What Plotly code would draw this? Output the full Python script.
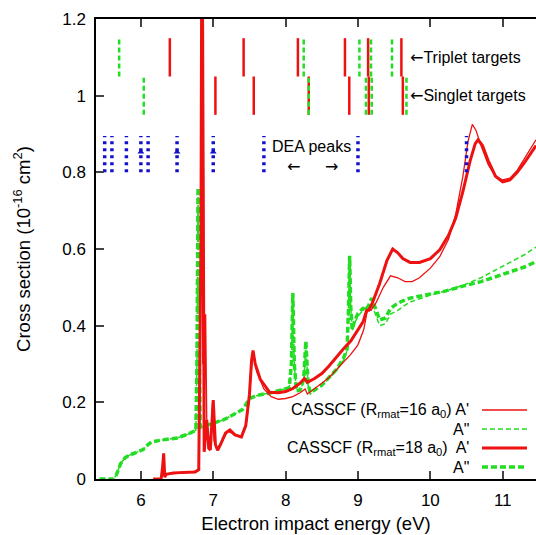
import plotly.graph_objects as go

# ---------------- data ----------------
# CASSCF R_rmat = 18 a0, A' (thick red)
e_a1_18 = [6.17, 6.28, 6.30, 6.315, 6.33, 6.35, 6.45, 6.6, 6.75, 6.8, 6.83, 6.845, 6.86, 6.875, 6.91, 6.94,
           6.96, 7.0, 7.03, 7.06, 7.1, 7.17, 7.23, 7.3, 7.39, 7.45, 7.5, 7.53, 7.55, 7.58, 7.65, 7.78,
           7.9, 8.0, 8.1, 8.2, 8.26, 8.3, 8.4, 8.5, 8.6, 8.7, 8.8, 8.9, 9.0, 9.07, 9.12, 9.15, 9.2,
           9.3, 9.4, 9.48, 9.55, 9.62, 9.72, 9.85, 10.0, 10.13, 10.25, 10.35, 10.45, 10.55, 10.62,
           10.66, 10.72, 10.8, 10.9, 11.0, 11.1, 11.2, 11.3, 11.46]
v_a1_18 = [0, 0, 0.03, 0.067, 0.005, 0.012, 0.016, 0.017, 0.018, 0.025, 0.6, 1.6, 0.5, 0.071, 0.154, 0.08,
           0.076, 0.206, 0.09, 0.075, 0.09, 0.12, 0.128, 0.115, 0.11, 0.14, 0.22, 0.31, 0.335, 0.30, 0.26, 0.226,
           0.225, 0.228, 0.236, 0.25, 0.262, 0.252, 0.262, 0.275, 0.295, 0.318, 0.34, 0.36, 0.39, 0.41, 0.44, 0.44, 0.46,
           0.51, 0.57, 0.60, 0.59, 0.575, 0.565, 0.565, 0.575, 0.598, 0.635, 0.68, 0.75, 0.83, 0.875,
           0.885, 0.87, 0.83, 0.79, 0.775, 0.78, 0.80, 0.825, 0.87]

# CASSCF R_rmat = 16 a0, A' (thin red)
e_a1_16 = [6.17, 6.28, 6.30, 6.315, 6.33, 6.35, 6.6, 6.8, 6.83, 6.84, 6.855, 6.865, 6.875, 6.895, 6.91, 6.93,
           6.96, 6.99, 7.01, 7.05, 7.1, 7.2, 7.25, 7.38, 7.45, 7.5, 7.54, 7.56, 7.6, 7.7, 7.8, 7.9,
           8.0, 8.1, 8.2, 8.27, 8.3, 8.4, 8.5, 8.6, 8.7, 8.8, 8.9, 9.0, 9.08, 9.13, 9.18, 9.25, 9.35,
           9.45, 9.55, 9.65, 9.75, 9.85, 10.0, 10.13, 10.25, 10.35, 10.45, 10.52, 10.58, 10.63, 10.7,
           10.8, 10.9, 11.0, 11.1, 11.2, 11.3, 11.46]
v_a1_16 = [0, 0, 0.03, 0.065, 0.005, 0.012, 0.016, 0.022, 0.7, 1.6, 0.3, 0.81, 0.1, 0.43, 0.16, 0.08,
           0.08, 0.2, 0.1, 0.078, 0.09, 0.125, 0.12, 0.108, 0.135, 0.21, 0.32, 0.325, 0.28, 0.235, 0.215, 0.208,
           0.21, 0.215, 0.225, 0.235, 0.222, 0.235, 0.25, 0.265, 0.285, 0.305, 0.325, 0.35, 0.39, 0.44, 0.44, 0.46, 0.5,
           0.53, 0.525, 0.515, 0.515, 0.525, 0.55, 0.58, 0.625, 0.69, 0.79, 0.88, 0.925, 0.91, 0.87,
           0.82, 0.79, 0.78, 0.785, 0.805, 0.835, 0.885]

# CASSCF R_rmat = 18 a0, A'' (thick green dashed)
e_a2_18 = [5.43, 5.62, 5.66, 5.72, 5.78, 5.85, 5.95, 6.03, 6.1, 6.15, 6.3, 6.5, 6.65, 6.76, 6.775, 6.79,
           6.805, 6.82, 6.9, 7.0, 7.14, 7.3, 7.41, 7.47, 7.52, 7.65, 7.8, 7.95, 8.05, 8.08, 8.10, 8.12,
           8.15, 8.2, 8.25, 8.28, 8.31, 8.34, 8.4, 8.5, 8.6, 8.7, 8.8, 8.85, 8.87, 8.885, 8.9, 8.92,
           8.95, 9.0, 9.07, 9.12, 9.19, 9.25, 9.3, 9.38, 9.45, 9.53, 9.62, 9.72, 9.85, 10.0, 10.2,
           10.45, 10.7, 10.91, 11.1, 11.3, 11.46]
v_a2_18 = [0, 0, 0.01, 0.04, 0.055, 0.063, 0.07, 0.077, 0.09, 0.097, 0.102, 0.107, 0.117, 0.127, 0.3, 0.76,
           0.4, 0.135, 0.14, 0.146, 0.154, 0.17, 0.182, 0.2, 0.212, 0.22, 0.225, 0.233, 0.238, 0.3, 0.485, 0.3,
           0.23, 0.232, 0.26, 0.36, 0.25, 0.225, 0.232, 0.245, 0.265, 0.285, 0.315, 0.34, 0.45, 0.582, 0.45, 0.39,
           0.41, 0.432, 0.445, 0.44, 0.472, 0.44, 0.415, 0.42, 0.445, 0.456, 0.465, 0.472, 0.477, 0.482, 0.49,
           0.503, 0.515, 0.528, 0.54, 0.553, 0.567]

# CASSCF R_rmat = 16 a0, A'' (thin green dashed)
e_a2_16 = [5.43, 5.62, 5.66, 5.72, 5.78, 5.85, 5.95, 6.03, 6.1, 6.15, 6.3, 6.5, 6.65, 6.76, 6.775, 6.79,
           6.805, 6.82, 6.9, 7.0, 7.14, 7.3, 7.41, 7.47, 7.52, 7.65, 7.8, 7.95, 8.05, 8.08, 8.10, 8.12,
           8.15, 8.2, 8.25, 8.28, 8.31, 8.34, 8.4, 8.5, 8.6, 8.7, 8.8, 8.85, 8.87, 8.885, 8.9, 8.92,
           8.95, 9.0, 9.07, 9.15, 9.2, 9.3, 9.38, 9.45, 9.55, 9.7, 9.85, 10.0, 10.2,
           10.45, 10.7, 10.91, 11.1, 11.3, 11.46]
v_a2_16 = [0, 0, 0.01, 0.04, 0.055, 0.063, 0.07, 0.077, 0.09, 0.097, 0.102, 0.107, 0.117, 0.127, 0.3, 0.76,
           0.4, 0.135, 0.14, 0.146, 0.154, 0.17, 0.182, 0.2, 0.212, 0.22, 0.225, 0.233, 0.238, 0.3, 0.48, 0.3,
           0.228, 0.23, 0.255, 0.35, 0.245, 0.222, 0.23, 0.243, 0.262, 0.282, 0.31, 0.335, 0.45, 0.57, 0.45, 0.385,
           0.405, 0.425, 0.44, 0.455, 0.45, 0.4, 0.405, 0.43, 0.44, 0.46, 0.47, 0.48, 0.49,
           0.505, 0.525, 0.545, 0.565, 0.585, 0.605]

# target state energies (eV)
triplet_red = [6.40, 7.42, 8.17, 8.82, 9.14, 9.60]
triplet_green = [5.70, 8.25, 9.02, 9.18, 9.47]
singlet_red = [7.03, 7.56, 8.32, 8.88, 9.15, 9.62]
singlet_green = [6.04, 8.32, 9.11, 9.19, 9.67]
triplet_row = [1.05, 1.15]
singlet_row = [0.95, 1.05]

# DEA peak energies (eV)
dea_peaks = [5.5, 5.6, 5.8, 6.0, 6.1, 6.5, 7.0, 7.7, 9.0, 10.5]
dea_row = [0.80, 0.895]
dea_marks = [6.0, 6.5, 7.0]

x_ticks = [6, 7, 8, 9, 10, 11]
y_ticks = [0, 0.2, 0.4, 0.6, 0.8, 1.0, 1.2]
y_ticklabels = ["0", "0.2", "0.4", "0.6", "0.8", "1", "1.2"]

RED = "#ee1111"
GREEN = "#22dd22"
BLUE = "#1111cc"
FONT = "Liberation Sans, Arial, sans-serif"
ARROW = '<span style="font-family:DejaVu Sans">{}</span>'


def segs(xs, row):
    X, Y = [], []
    for x in xs:
        X += [x, x, None]
        Y += [row[0], row[1], None]
    return X, Y


fig = go.Figure()

# curves
fig.add_trace(go.Scatter(x=e_a2_16, y=v_a2_16, mode="lines",
                         line=dict(color=GREEN, width=1.5, dash="5px,3px"), hoverinfo="skip"))
fig.add_trace(go.Scatter(x=e_a2_18, y=v_a2_18, mode="lines",
                         line=dict(color=GREEN, width=3.5, dash="6px,3px"), hoverinfo="skip"))
fig.add_trace(go.Scatter(x=e_a1_16, y=v_a1_16, mode="lines",
                         line=dict(color=RED, width=1.3), hoverinfo="skip"))
fig.add_trace(go.Scatter(x=e_a1_18, y=v_a1_18, mode="lines",
                         line=dict(color=RED, width=3), hoverinfo="skip"))

# target lines
for xs, row, col, dash in [(triplet_red, triplet_row, RED, "solid"),
                           (singlet_red, singlet_row, RED, "solid"),
                           (triplet_green, triplet_row, GREEN, "5px,3px"),
                           (singlet_green, singlet_row, GREEN, "5px,3px")]:
    X, Y = segs(xs, row)
    fig.add_trace(go.Scatter(x=X, y=Y, mode="lines", line=dict(color=col, width=2.5, dash=dash),
                             hoverinfo="skip"))

# DEA peaks
X, Y = segs(dea_peaks, dea_row)
fig.add_trace(go.Scatter(x=X, y=Y, mode="lines", line=dict(color=BLUE, width=3.5, dash="3px,4px"),
                         hoverinfo="skip"))
fig.add_trace(go.Scatter(x=dea_marks, y=[0.853] * len(dea_marks), mode="markers",
                         marker=dict(symbol="triangle-up", size=6, color=BLUE), hoverinfo="skip"))

ann_font = dict(family=FONT, size=16, color="black")
annotations = [
    dict(x=9.69, y=1.10, text=ARROW.format("←") + "Triplet targets", xanchor="left", yanchor="middle",
         showarrow=False, font=ann_font),
    dict(x=9.69, y=1.00, text=ARROW.format("←") + "Singlet targets", xanchor="left", yanchor="middle",
         showarrow=False, font=ann_font),
    dict(x=8.36, y=0.868, text="DEA peaks", xanchor="center", yanchor="middle", showarrow=False, font=ann_font),
    dict(x=8.11, y=0.815, text=ARROW.format("←"), xanchor="center", yanchor="middle", showarrow=False,
         font=ann_font),
    dict(x=8.64, y=0.815, text=ARROW.format("→"), xanchor="center", yanchor="middle", showarrow=False,
         font=ann_font),
]

# manual legend (pixel-ish positions in paper coordinates)
W, H = 536, 535
ml, mr, mt, mb = 96, 0, 19, 56
pw, ph = W - ml - mr, H - mt - mb


def px(xp):
    return (xp - ml) / pw


def py(yp):
    return (H - mb - yp) / ph


leg = [
    ("CASSCF (R<sub>rmat</sub>=16 a<sub>0</sub>) A'", 410, RED, 1.3, "solid"),
    ('A"', 429, GREEN, 1.5, "5px,3px"),
    ("CASSCF (R<sub>rmat</sub>=18 a<sub>0</sub>)  A'", 448, RED, 3, "solid"),
    ('A"', 467, GREEN, 3.5, "6px,3px"),
]
shapes = []
for txt, yp, col, w, dash in leg:
    annotations.append(dict(x=px(471), y=py(yp), xref="paper", yref="paper", text=txt,
                            xanchor="right", yanchor="middle", showarrow=False, font=ann_font))
    shapes.append(dict(type="line", xref="paper", yref="paper", x0=px(482), x1=px(527),
                       y0=py(yp), y1=py(yp), line=dict(color=col, width=w, dash=dash)))

fig.update_layout(
    width=W, height=H,
    margin=dict(l=ml, r=mr, t=mt, b=mb),
    paper_bgcolor="white", plot_bgcolor="white",
    showlegend=False,
    font=dict(family=FONT, size=16, color="black"),
    annotations=annotations,
    shapes=shapes,
    xaxis=dict(range=[5.38, 11.46], tickvals=x_ticks, ticks="inside", ticklen=8, tickwidth=1.5,
               showline=True, linecolor="black", linewidth=1.5, mirror="ticks", showgrid=False,
               zeroline=False, tickfont=dict(size=17), ticklabelstandoff=5, automargin=False,
               title=dict(text="Electron impact energy (eV)", font=dict(size=18.5), standoff=8)),
    yaxis=dict(range=[0, 1.2], tickvals=y_ticks, ticktext=y_ticklabels, ticks="inside", ticklen=8,
               tickwidth=1.5, showline=True, linecolor="black", linewidth=1.5, mirror=False,
               showgrid=False, zeroline=False, tickfont=dict(size=17), ticklabelstandoff=5,
               automargin=False,
               title=dict(text="Cross section (10<sup>-16</sup> cm<sup>2</sup>)", font=dict(size=18.5),
                          standoff=27)),
)

fig.write_html("out.html")
